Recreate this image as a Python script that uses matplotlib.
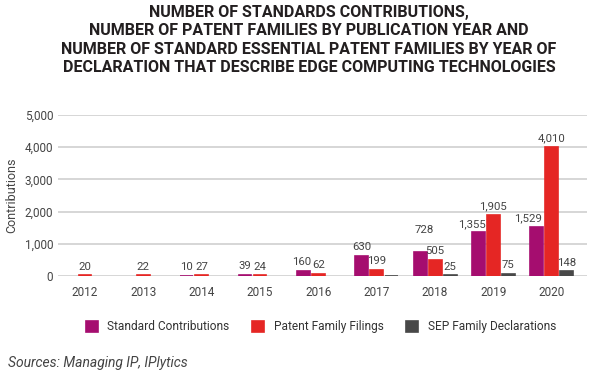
import numpy as np
import matplotlib
matplotlib.use('Agg')
import matplotlib.pyplot as plt

plt.rcParams['font.family'] = ['Roboto', 'DejaVu Sans']

years = ['2012', '2013', '2014', '2015', '2016', '2017', '2018', '2019', '2020']
standard_contributions = [0, 0, 10, 39, 160, 630, 728, 1355, 1529]
patent_filings = [20, 22, 27, 24, 62, 199, 505, 1905, 4010]
sep_declarations = [0, 0, 0, 0, 0, 8, 25, 75, 148]

std_labels = ['', '', '10', '39', '160', '630', '728', '1,355', '1,529']
pat_labels = ['20', '22', '27', '24', '62', '199', '505', '1,905', '4,010']
sep_labels = ['', '', '', '', '', '', '25', '75', '148']

purple = '#a50d6f'
red = '#e52624'
dark = '#484848'

fig = plt.figure(figsize=(6, 3.78), dpi=100)
ax = fig.add_axes([0.097, 0.270, 0.881, 0.426])

x = np.arange(len(years))
w = 0.22
step = 0.257

series = [
    (standard_contributions, std_labels, purple, 'Standard Contributions', -step),
    (patent_filings, pat_labels, red, 'Patent Family Filings', 0),
    (sep_declarations, sep_labels, dark, 'SEP Family Declarations', step),
]

# little nudges so neighbouring value labels do not collide (in points)
nudge = {(0, 4): (-1, 0), (0, 6): (3, 10), (0, 7): (-5, 0), (0, 8): (-6, 0)}

for k, (vals, labs, col, name, off) in enumerate(series):
    v = np.array(vals, dtype=float)
    mask = v > 0
    ax.bar(x[mask] + off, v[mask], width=w, color=col, edgecolor=col,
           linewidth=1.2, label=name, zorder=3)
    for i, (xi, vi, lab) in enumerate(zip(x + off, v, labs)):
        if lab:
            dx, dy = nudge.get((k, i), (0, 0))
            ax.annotate(lab, (xi, vi), xytext=(dx, 2.5 + dy),
                        textcoords='offset points', ha='center', va='bottom',
                        fontsize=8.2, color='#444444')

ax.set_xlim(-0.46, 8.6)
ax.set_ylim(0, 5000)
ax.set_yticks(range(0, 5001, 1000))
ax.set_yticklabels(['{:,}'.format(t) for t in range(0, 5001, 1000)])
ax.set_xticks(x)
ax.set_xticklabels(years)
ax.tick_params(axis='both', length=0, labelsize=8.5, labelcolor='#444444')
ax.tick_params(axis='x', pad=7)
ax.grid(axis='y', color='#d0d0d0', linewidth=1.2, zorder=0)
for s in ax.spines.values():
    s.set_visible(False)
ax.set_ylabel('Contributions', fontsize=9, color='#444444', labelpad=5)

fig.text(0.515, 0.988,
         'NUMBER OF STANDARDS CONTRIBUTIONS,\n'
         'NUMBER OF PATENT FAMILIES BY PUBLICATION YEAR AND\n'
         'NUMBER OF STANDARD ESSENTIAL PATENT FAMILIES BY YEAR OF\n'
         'DECLARATION THAT DESCRIBE EDGE COMPUTING TECHNOLOGIES',
         ha='center', va='top', fontsize=11.5, fontweight='bold',
         color='#231f20', linespacing=1.3)

fig.legend(loc='center', bbox_to_anchor=(0.535, 0.135), ncol=3, frameon=False,
           fontsize=8.6, handlelength=1.0, handleheight=1.1,
           columnspacing=1.9, handletextpad=0.8, labelcolor='#333333')

fig.text(0.013, 0.02, 'Sources: Managing IP, IPlytics', ha='left',
         va='bottom', fontsize=10, style='italic', color='#444444')

fig.savefig('out.png', dpi=100)
